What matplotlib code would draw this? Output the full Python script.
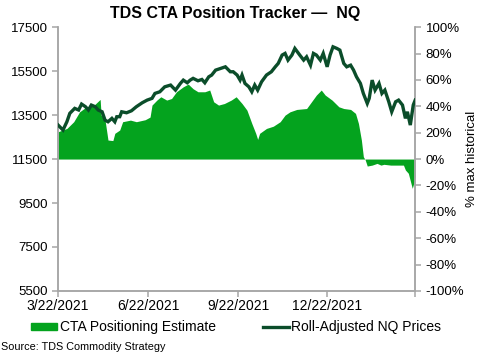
import numpy as np
import pandas as pd
import matplotlib
matplotlib.use("Agg")
import matplotlib.pyplot as plt
from matplotlib.patches import Patch
from matplotlib.lines import Line2D

plt.rcParams['font.family'] = ['Liberation Sans', 'DejaVu Sans']

START = pd.Timestamp('2021-03-22')

# Roll-adjusted NQ prices (left axis), days since START
price_day = [0, 5, 9, 12, 17, 21, 24, 28, 31, 34, 38, 41, 45, 48, 51, 55, 58, 60, 63,
             65, 70, 75, 80, 86, 91, 96, 99, 104, 109, 115, 120,
             125, 128, 132, 135, 138, 143, 147, 150, 154, 157, 161, 166, 171, 176,
             179, 183, 186, 188, 191, 195, 198, 201, 204, 208, 213, 218, 222, 225,
             229, 232, 235, 239, 242,
             247, 251, 254, 258, 261, 264, 268, 271, 275, 278, 281, 285, 288, 292,
             295, 299, 302, 305, 309, 312, 316, 318, 321, 324, 328, 331, 334, 338,
             341, 345, 348, 352, 355, 357, 360, 363, 365]
price_val = [13045, 12820, 13195, 13580, 13805, 13730, 14000, 13880, 13730, 13955,
             13880, 13730, 13650, 13270, 13195, 13350, 13195, 13425, 13425, 13650,
             13605, 13695, 13880, 14060, 14180, 14260, 14485, 14560, 14785, 14865,
             14635,
             14940, 15090, 14970, 15090, 15170, 15060, 15120, 14970, 15240, 15320,
             15545, 15620, 15695, 15470, 15470, 15320, 15090, 15320, 14940, 14785,
             14560, 14865, 14635, 15015, 15320, 15470, 15695, 15850, 16230, 16305,
             16000, 16230, 16530,
             16230, 16000, 16150, 15770, 16305, 16230, 16000, 16305, 15695, 16230,
             16605, 16530, 16455, 15850, 15695, 15770, 15545, 15240, 14940, 14485,
             14030, 14260, 15090, 14635, 14940, 14485, 14635, 14105, 13650, 14105,
             14180, 13955, 13350, 13650, 13045, 13955, 14180]

# CTA positioning estimate (% of max historical, right axis)
cta_day = [0, 9, 16, 22, 29, 36, 43, 44, 48, 50, 51, 56, 58, 63, 66, 74, 80, 89, 94,
           96, 101, 105, 111, 116, 121, 128, 133, 138, 143, 150, 155, 159, 164, 170,
           177, 182, 188, 193, 198, 202, 204, 206, 213, 220, 227, 232, 237, 244, 254,
           259, 264, 269, 273, 280, 287, 292, 299, 304, 307, 310, 312, 314, 316, 321,
           326, 330, 333, 340, 353, 355, 358, 362, 363, 365]
cta_val = [20.7, 23.2, 28.3, 35.8, 39.6, 40.3, 45.2, 33.3, 29.5, 19.5, 14.4, 14.0,
           19.5, 22.0, 28.3, 29.5, 28.3, 29.8, 31.8, 40.9, 44.7, 47.2, 44.7, 45.9,
           51.0, 54.8, 56.8, 53.3, 51.0, 51.0, 52.3, 43.4, 40.9, 42.1, 44.7, 47.2,
           42.1, 37.1, 27.0, 19.5, 14.9, 19.5, 23.2, 24.9, 28.3, 33.3, 35.8, 37.6,
           38.3, 43.4, 48.5, 52.3, 48.5, 44.7, 39.6, 38.3, 37.6, 34.6, 27.0, 14.4,
           1.8, -0.8, -5.3, -4.6, -3.3, -4.6, -4.0, -4.6, -4.6, -8.3, -10.8, -22.2,
           -19.7, -13.4]

left_ticks = [5500, 7500, 9500, 11500, 13500, 15500, 17500]
right_ticks = [-100, -80, -60, -40, -20, 0, 20, 40, 60, 80, 100]
tick_dates = ['2021-03-22', '2021-06-22', '2021-09-22', '2021-12-22', '2022-03-22']
tick_labels = ['3/22/2021', '6/22/2021', '9/22/2021', '12/22/2021', '']

AREA = '#04a31e'
LINE = '#0b4d2a'
SPINE = '#a6a6a6'

price_x = START + pd.to_timedelta(price_day, unit='D')
cta_x = START + pd.to_timedelta(cta_day, unit='D')

fig = plt.figure(figsize=(4.8, 3.57), dpi=100)
ax = fig.add_axes([0.121, 0.185, 0.744, 0.739])
ax2 = ax.twinx()

ax2.fill_between(cta_x, 0, cta_val, color=AREA, lw=0)
ax.plot(price_x, price_val, color=LINE, lw=2.4, zorder=3, solid_joinstyle='miter')

# price line sits above the area
ax.set_zorder(ax2.get_zorder() + 1)
ax.patch.set_visible(False)

ax.set_ylim(5500, 17500)
ax.set_yticks(left_ticks)
ax2.set_ylim(-100, 100)
ax2.set_yticks(right_ticks)
ax2.set_yticklabels([f'{t}%' for t in right_ticks])
ax.set_xlim(pd.Timestamp(tick_dates[0]), pd.Timestamp(tick_dates[-1]))
ax.set_xticks(pd.to_datetime(tick_dates))
ax.set_xticklabels(tick_labels)

for a in (ax, ax2):
    a.spines['top'].set_visible(False)
    for s in ('left', 'right', 'bottom'):
        a.spines[s].set_color(SPINE)
        a.spines[s].set_linewidth(1.1)
    a.tick_params(colors=SPINE, labelcolor='black', labelsize=9.5, width=1.1, length=4)
ax.tick_params(axis='x', pad=2, labelsize=10)

ax2.set_ylabel('% max historical', fontsize=9.5, labelpad=1)

fig.text(0.49, 0.962, 'TDS CTA Position Tracker \u2014  NQ', ha='center', va='center',
         fontsize=11.5, fontweight='bold')

handles = [Patch(color=AREA, label='CTA Positioning Estimate'),
           Line2D([], [], color=LINE, lw=2.4, label='Roll-Adjusted NQ Prices')]
fig.legend(handles=handles, loc='center', bbox_to_anchor=(0.492, 0.083), ncol=2,
           frameon=False, fontsize=10, columnspacing=3.4, handlelength=1.9,
           handletextpad=0.15, handleheight=0.45, borderaxespad=0, borderpad=0)

fig.text(0.002, 0.028, 'Source: TDS Commodity Strategy', fontsize=7.8, va='center')

fig.savefig('out.png', dpi=100)
